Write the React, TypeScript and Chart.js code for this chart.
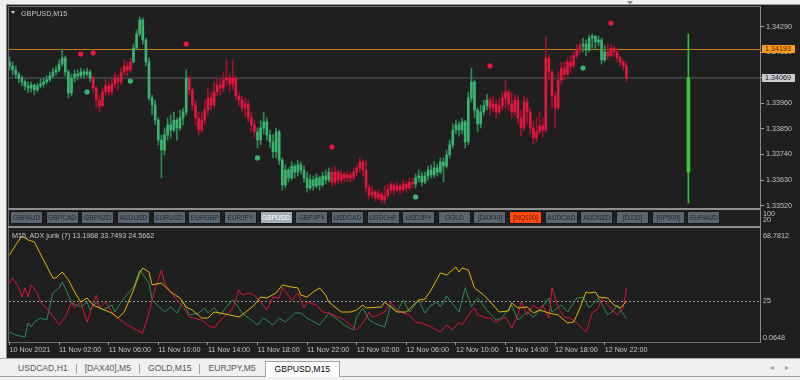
import React, { useEffect, useRef } from 'react';
import { Chart, registerables } from 'chart.js';

Chart.register(...registerables);

// ---------------- data ----------------
const chartTitle = 'GBPUSD,M15';
const firstOpen = 1.34138;
const closes = [
  1.34121, 1.34104, 1.34086, 1.34069, 1.34052, 1.34035, 1.34026, 1.34039, 1.34018, 1.34035,
  1.34043, 1.34052, 1.34061, 1.34078, 1.34095, 1.34104, 1.34129, 1.34155, 1.34095, 1.34005,
  1.34069, 1.34086, 1.34078, 1.34095, 1.34086, 1.34095, 1.34069, 1.34026, 1.33974, 1.33949,
  1.34009, 1.34035, 1.34009, 1.34043, 1.34069, 1.34052, 1.34095, 1.34121, 1.34104, 1.34138,
  1.34198, 1.34259, 1.34319, 1.34233, 1.34138, 1.33983, 1.33953, 1.33888, 1.33802, 1.33759,
  1.33824, 1.33867, 1.33845, 1.33888, 1.33854, 1.33897, 1.33923, 1.34069, 1.34018, 1.33953,
  1.33897, 1.33845, 1.33888, 1.33931, 1.33983, 1.33953, 1.34009, 1.34039, 1.34026, 1.34061,
  1.34069, 1.34043, 1.34069, 1.33992, 1.33974, 1.33940, 1.33957, 1.33897, 1.33867, 1.33837,
  1.33802, 1.33854, 1.33880, 1.33824, 1.33794, 1.33751, 1.33837, 1.33716, 1.33609, 1.33673,
  1.33639, 1.33690, 1.33664, 1.33695, 1.33673, 1.33639, 1.33596, 1.33630, 1.33604, 1.33639,
  1.33609, 1.33647, 1.33630, 1.33664, 1.33621, 1.33664, 1.33630, 1.33656, 1.33639, 1.33652,
  1.33639, 1.33664, 1.33682, 1.33708, 1.33673, 1.33596, 1.33565, 1.33578, 1.33553, 1.33570,
  1.33544, 1.33561, 1.33587, 1.33609, 1.33587, 1.33604, 1.33587, 1.33613, 1.33596, 1.33621,
  1.33613, 1.33639, 1.33647, 1.33621, 1.33647, 1.33673, 1.33652, 1.33682, 1.33664, 1.33708,
  1.33690, 1.33738, 1.33781, 1.33845, 1.33867, 1.33845, 1.33880, 1.33794, 1.33983, 1.34052,
  1.33931, 1.33871, 1.33923, 1.33949, 1.33974, 1.33940, 1.33957, 1.33923, 1.33949, 1.33983,
  1.34009, 1.33957, 1.33923, 1.33974, 1.33897, 1.33854, 1.33966, 1.33923, 1.33854, 1.33811,
  1.33837, 1.33863, 1.33845, 1.34155, 1.34095, 1.33992, 1.33940, 1.34061, 1.34112, 1.34086,
  1.34138, 1.34121, 1.34164, 1.34190, 1.34207, 1.34215, 1.34190, 1.34241, 1.34250, 1.34224,
  1.34233, 1.34147, 1.34181, 1.34164, 1.34198, 1.34181, 1.34155, 1.34138, 1.34121, 1.34069,
];
const highs = [
  1.34160, 1.34138, 1.34121, 1.34095, 1.34078, 1.34061, 1.34052, 1.34052, 1.34043, 1.34048,
  1.34065, 1.34069, 1.34078, 1.34095, 1.34112, 1.34121, 1.34147, 1.34194, 1.34164, 1.34104,
  1.34086, 1.34104, 1.34104, 1.34112, 1.34104, 1.34112, 1.34104, 1.34078, 1.34035, 1.33996,
  1.34026, 1.34061, 1.34052, 1.34069, 1.34091, 1.34082, 1.34112, 1.34147, 1.34138, 1.34155,
  1.34215, 1.34276, 1.34332, 1.34327, 1.34241, 1.34155, 1.33996, 1.33974, 1.33897, 1.33824,
  1.33854, 1.33897, 1.33910, 1.33923, 1.33897, 1.33931, 1.33940, 1.34104, 1.34078, 1.34026,
  1.33974, 1.33923, 1.33923, 1.33974, 1.34026, 1.34009, 1.34052, 1.34069, 1.34069, 1.34095,
  1.34147, 1.34086, 1.34147, 1.34078, 1.34009, 1.33992, 1.33983, 1.33974, 1.33923, 1.33888,
  1.33854, 1.33888, 1.33923, 1.33897, 1.33845, 1.33824, 1.33854, 1.33845, 1.33725, 1.33695,
  1.33682, 1.33708, 1.33699, 1.33716, 1.33708, 1.33690, 1.33664, 1.33652, 1.33647, 1.33656,
  1.33647, 1.33664, 1.33673, 1.33682, 1.33682, 1.33690, 1.33673, 1.33673, 1.33664, 1.33669,
  1.33664, 1.33682, 1.33695, 1.33725, 1.33716, 1.33716, 1.33609, 1.33604, 1.33587, 1.33587,
  1.33578, 1.33604, 1.33613, 1.33621, 1.33617, 1.33621, 1.33613, 1.33630, 1.33621, 1.33639,
  1.33639, 1.33656, 1.33673, 1.33664, 1.33664, 1.33690, 1.33695, 1.33708, 1.33699, 1.33725,
  1.33725, 1.33759, 1.33802, 1.33871, 1.33888, 1.33880, 1.33897, 1.33888, 1.34009, 1.34112,
  1.34061, 1.33940, 1.33953, 1.33974, 1.34000, 1.33983, 1.33992, 1.33974, 1.33983, 1.34009,
  1.34061, 1.34018, 1.34009, 1.33996, 1.33992, 1.33931, 1.33992, 1.33983, 1.33940, 1.33880,
  1.33897, 1.33923, 1.33897, 1.34246, 1.34168, 1.34104, 1.34009, 1.34095, 1.34138, 1.34138,
  1.34155, 1.34164, 1.34181, 1.34215, 1.34224, 1.34241, 1.34233, 1.34254, 1.34259, 1.34250,
  1.34250, 1.34241, 1.34207, 1.34215, 1.34215, 1.34207, 1.34198, 1.34164, 1.34147, 1.34138,
];
const lows = [
  1.34104, 1.34082, 1.34069, 1.34048, 1.34035, 1.34018, 1.34005, 1.34009, 1.33996, 1.34009,
  1.34026, 1.34030, 1.34043, 1.34052, 1.34069, 1.34082, 1.34095, 1.34121, 1.34078, 1.33983,
  1.33992, 1.34052, 1.34061, 1.34069, 1.34069, 1.34078, 1.34052, 1.34009, 1.33940, 1.33923,
  1.33949, 1.33996, 1.33992, 1.33996, 1.34026, 1.34018, 1.34039, 1.34082, 1.34078, 1.34095,
  1.34134, 1.34190, 1.34250, 1.34215, 1.34121, 1.33974, 1.33910, 1.33867, 1.33781, 1.33639,
  1.33738, 1.33802, 1.33811, 1.33837, 1.33802, 1.33845, 1.33867, 1.33910, 1.33996, 1.33931,
  1.33867, 1.33824, 1.33837, 1.33867, 1.33910, 1.33931, 1.33940, 1.33992, 1.33996, 1.34009,
  1.34035, 1.34009, 1.34018, 1.33974, 1.33949, 1.33923, 1.33906, 1.33880, 1.33837, 1.33811,
  1.33768, 1.33781, 1.33828, 1.33802, 1.33768, 1.33725, 1.33725, 1.33695, 1.33587, 1.33596,
  1.33621, 1.33630, 1.33639, 1.33647, 1.33656, 1.33621, 1.33578, 1.33587, 1.33587, 1.33596,
  1.33587, 1.33600, 1.33613, 1.33621, 1.33604, 1.33609, 1.33613, 1.33617, 1.33621, 1.33626,
  1.33621, 1.33630, 1.33647, 1.33664, 1.33647, 1.33578, 1.33548, 1.33553, 1.33540, 1.33544,
  1.33531, 1.33527, 1.33553, 1.33570, 1.33565, 1.33578, 1.33570, 1.33578, 1.33578, 1.33587,
  1.33596, 1.33596, 1.33621, 1.33604, 1.33613, 1.33630, 1.33639, 1.33639, 1.33647, 1.33656,
  1.33621, 1.33682, 1.33725, 1.33768, 1.33828, 1.33819, 1.33828, 1.33768, 1.33781, 1.33966,
  1.33897, 1.33837, 1.33854, 1.33910, 1.33931, 1.33910, 1.33923, 1.33897, 1.33914, 1.33931,
  1.33940, 1.33931, 1.33897, 1.33906, 1.33871, 1.33819, 1.33845, 1.33871, 1.33828, 1.33785,
  1.33794, 1.33828, 1.33815, 1.33837, 1.34061, 1.33940, 1.33854, 1.33931, 1.34043, 1.34061,
  1.34078, 1.34095, 1.34112, 1.34155, 1.34172, 1.34181, 1.34164, 1.34181, 1.34198, 1.34190,
  1.34207, 1.34129, 1.34138, 1.34147, 1.34160, 1.34164, 1.34138, 1.34121, 1.34104, 1.34052,
];
// trend colouring of the candles, as runs of [direction, bar count]
const trendRuns: [string, number][] = [
  ['up', 27], ['down', 13], ['up', 18], ['down', 22], ['up', 24],
  ['down', 27], ['up', 24], ['down', 30], ['up', 8], ['down', 7],
];
const sellSignals: [number, number][] = [
  [23, 1.34172], [27, 1.34177], [57, 1.34215], [104, 1.33772], [155, 1.34121], [194, 1.34306],
];
const buySignals: [number, number][] = [
  [25, 1.34009], [39, 1.34056], [80, 1.33725], [131, 1.33557], [185, 1.34112],
];
const dailyBar = 219;
const dailyOpen = 1.33664;
const dailyHigh = 1.34259;
const dailyLow = 1.33531;
const dailyClose = 1.34069;
const priceTicks = [1.3352, 1.3363, 1.3374, 1.3385, 1.3396, 1.3407, 1.3418, 1.3429];
const levelPrice = 1.34193;
const bidPrice = 1.34069;

const timeTickBars = [0, 16, 32, 48, 64, 80, 96, 112, 128, 144, 160, 176, 192];
const timeLabels = [
  '10 Nov 2021', '11 Nov 02:00', '11 Nov 06:00', '11 Nov 10:00', '11 Nov 14:00',
  '11 Nov 18:00', '11 Nov 22:00', '12 Nov 02:00', '12 Nov 06:00', '12 Nov 10:00',
  '12 Nov 14:00', '12 Nov 18:00', '12 Nov 22:00',
];

const indicatorTitle = 'M15, ADX jurik (7) 13.1968 33.7493 24.5662';
const adxLine: [number, number][] = [
  [0, 56.0], [2, 62.7], [4, 68.8], [6, 66.1], [8, 64.8], [11, 52.6], [14, 40.5], [15, 40.5], [17, 44.5],
  [19, 39.2], [21, 31.1], [23, 24.3], [25, 27.0], [27, 22.3], [29, 20.3], [33, 16.9], [35, 13.5], [37, 17.6],
  [40, 32.4], [42, 43.9], [43, 47.2], [45, 44.5], [46, 35.8], [49, 37.1], [52, 31.1], [55, 27.0], [57, 21.0],
  [59, 18.9], [62, 13.5], [64, 13.5], [66, 17.6], [68, 16.9], [71, 15.6], [74, 14.2], [75, 15.6], [79, 22.3],
  [81, 27.7], [83, 27.0], [86, 30.4], [88, 35.8], [91, 34.4], [93, 33.8], [94, 29.0], [96, 27.7], [98, 31.1],
  [100, 33.8], [102, 29.0], [103, 24.3], [107, 17.6], [110, 17.6], [112, 18.9], [114, 22.3], [115, 20.3],
  [120, 21.0], [121, 24.3], [125, 17.6], [128, 17.6], [132, 25.7], [134, 26.3], [136, 32.4], [139, 43.9],
  [141, 42.5], [144, 47.9], [145, 44.5], [146, 47.2], [148, 45.9], [150, 33.8], [153, 29.0], [156, 22.3],
  [158, 17.6], [161, 18.3], [162, 23.7], [164, 20.3], [167, 21.0], [169, 16.9], [171, 18.9], [174, 16.9],
  [177, 15.6], [180, 10.2], [182, 10.8], [184, 20.3], [186, 31.1], [187, 30.4], [189, 31.1], [190, 27.7],
  [193, 27.0], [195, 22.3], [197, 20.3], [199, 24.5662],
];
const redLine: [number, number][] = [
  [0, 37.1], [1, 40.5], [3, 33.8], [4, 27.7], [5, 33.8], [6, 27.7], [7, 35.8], [9, 30.4], [10, 24.3],
  [13, 17.6], [16, 8.8], [18, 14.2], [20, 24.3], [21, 20.3], [23, 24.3], [25, 10.8], [28, 29.0], [29, 20.3],
  [31, 24.3], [33, 17.6], [35, 13.5], [38, 8.8], [41, 5.5], [43, 3.4], [45, 16.9], [47, 33.8], [48, 39.2],
  [49, 45.9], [50, 37.1], [52, 31.1], [54, 25.7], [56, 21.0], [58, 14.2], [62, 12.2], [64, 8.8], [66, 6.8],
  [68, 12.2], [71, 17.6], [72, 20.3], [74, 32.4], [75, 29.0], [77, 30.4], [79, 29.0], [81, 24.3], [83, 18.9],
  [85, 27.7], [87, 27.0], [88, 34.4], [91, 25.7], [93, 30.4], [95, 20.3], [96, 24.3], [99, 22.3], [101, 17.6],
  [103, 17.0], [106, 14.2], [108, 12.2], [110, 8.8], [112, 5.5], [114, 10.2], [116, 17.6], [117, 14.2],
  [119, 15.6], [121, 17.6], [123, 24.3], [125, 18.9], [127, 16.9], [129, 15.6], [131, 10.8], [133, 10.2],
  [136, 7.5], [139, 4.1], [141, 8.8], [143, 5.5], [145, 10.8], [146, 8.8], [148, 15.6], [150, 20.3],
  [151, 15.6], [154, 13.5], [155, 13.5], [157, 10.8], [160, 14.2], [162, 6.8], [164, 15.6], [165, 24.3],
  [167, 15.6], [169, 22.3], [171, 18.9], [172, 22.3], [174, 13.5], [175, 33.8], [177, 20.3], [179, 14.2],
  [181, 13.5], [183, 10.2], [186, 4.1], [188, 16.9], [190, 20.3], [191, 27.0], [193, 22.3], [195, 17.6],
  [196, 15.6], [198, 20.3], [199, 33.7493],
];
const greenLine: [number, number][] = [
  [0, 4.1], [2, 2.1], [5, 0.7], [6, 10.2], [7, 7.5], [8, 10.8], [10, 13.5], [12, 12.2], [13, 21.0],
  [14, 30.4], [16, 33.8], [17, 37.8], [19, 29.0], [20, 23.7], [23, 21.0], [25, 24.3], [26, 18.9], [28, 24.3],
  [30, 18.9], [33, 22.3], [34, 17.6], [36, 24.3], [37, 27.0], [40, 34.4], [42, 45.9], [45, 37.1], [46, 25.7],
  [50, 17.6], [52, 21.0], [54, 16.9], [56, 24.3], [58, 15.6], [61, 16.9], [63, 20.3], [64, 16.9], [66, 20.3],
  [68, 15.6], [70, 21.0], [72, 25.7], [74, 20.3], [75, 16.9], [78, 12.2], [80, 8.8], [82, 13.5], [85, 8.8],
  [87, 13.5], [89, 10.8], [92, 16.9], [94, 16.9], [96, 13.5], [99, 10.2], [100, 8.8], [102, 14.2], [103, 16.9],
  [106, 12.2], [108, 8.8], [111, 5.5], [112, 14.2], [114, 20.3], [116, 12.2], [119, 8.8], [121, 7.5],
  [123, 22.3], [125, 17.6], [127, 25.7], [129, 17.6], [132, 25.7], [134, 16.9], [136, 22.3], [138, 24.3],
  [139, 21.0], [141, 28.4], [145, 17.6], [147, 33.8], [149, 21.0], [151, 27.0], [154, 18.9], [157, 12.2],
  [159, 14.2], [162, 22.3], [164, 12.2], [167, 17.6], [169, 14.2], [171, 18.9], [174, 27.0], [175, 17.6],
  [178, 22.3], [180, 17.6], [183, 27.0], [185, 27.7], [187, 20.3], [190, 27.0], [193, 15.6], [195, 18.9],
  [196, 22.3], [199, 13.1968],
];
const adxLevel = 25;
const indicatorTicks = [0.0648, 25, 68.7812];
const indicatorTickLabels = ['0.0648', '25', '68.7812'];

const symbolButtons = [
  'GBPAUD', 'GBPCAD', 'GBPNZD', 'AUDUSD', 'EURUSD', 'EURGBP', 'EURJPY', 'GBPUSD', 'GBPJPY', 'USDCAD',
  'USDCHF', 'USDJPY', 'GOLD', '[DAX40]', '[NQ100]', 'AUDCAD', 'AUDNZD', '[DJ30]', '[SP500]', 'EURAUD',
];
const activeSymbol = 'GBPUSD';
const alertSymbol = '[NQ100]';
const chartTabs = ['USDCAD,H1', '[DAX40],M5', 'GOLD,M15', 'EURJPY,M5', 'GBPUSD,M15'];
const activeTab = 'GBPUSD,M15';

// ---------------- styling / geometry ----------------
const X_MIN = -0.16;
const X_MAX = 242.1;
const P_MAX = 1.343748;
const P_MIN = 1.335095;
const I_MAX = 73.5;
const I_MIN = -2.6;
const FONT = 'Liberation Sans, Arial, sans-serif';
const AXIS_TEXT = '#c4c4c4';
const UP_BODY = '#3cb371';
const UP_WICK = '#2e8b57';
const DN_BODY = '#e0173f';
const DN_WICK = '#a3132f';

const trend: string[] = trendRuns.flatMap(([d, n]) => Array(n).fill(d));
const opens = closes.map((_, i) => (i === 0 ? firstOpen : closes[i - 1]));

const mainDecor = {
  id: 'mainDecor',
  beforeDatasetsDraw(chart: any) {
    const { ctx, chartArea, scales } = chart;
    const y = scales.y;
    ctx.save();
    let py = Math.round(y.getPixelForValue(bidPrice));
    ctx.fillStyle = '#3a3d40';
    ctx.fillRect(chartArea.left, py - 1, chartArea.right - chartArea.left, 2);
    py = Math.round(y.getPixelForValue(levelPrice));
    ctx.fillStyle = '#c97d12';
    ctx.fillRect(chartArea.left, py, chartArea.right - chartArea.left, 1);
    ctx.restore();
  },
  afterDraw(chart: any) {
    const { ctx, chartArea, scales } = chart;
    const y = scales.y;
    const box = (v: number, bg: string, fg: string) => {
      const py = Math.round(y.getPixelForValue(v));
      ctx.fillStyle = bg;
      ctx.fillRect(chartArea.right + 2, py - 4, 33, 8);
      ctx.fillStyle = fg;
      ctx.font = `7.2px ${FONT}`;
      ctx.textBaseline = 'middle';
      ctx.textAlign = 'left';
      ctx.fillText(v.toFixed(5), chartArea.right + 5, py + 0.5);
    };
    ctx.save();
    box(levelPrice, '#ff9a1a', '#3a2000');
    box(bidPrice, '#c9cdd1', '#151515');
    ctx.restore();
  },
};

const indDecor = {
  id: 'indDecor',
  beforeDatasetsDraw(chart: any) {
    const { ctx, chartArea, scales } = chart;
    const py = Math.round(scales.y.getPixelForValue(adxLevel)) + 0.5;
    ctx.save();
    ctx.strokeStyle = '#9a9a9a';
    ctx.lineWidth = 1;
    ctx.setLineDash([2, 2]);
    ctx.beginPath();
    ctx.moveTo(chartArea.left, py);
    ctx.lineTo(chartArea.right, py);
    ctx.stroke();
    ctx.restore();
  },
};

export default function App() {
  const mainRef = useRef<HTMLCanvasElement>(null);
  const indRef = useRef<HTMLCanvasElement>(null);

  useEffect(() => {
    const main = new Chart(mainRef.current as HTMLCanvasElement, {
      type: 'bar',
      data: {
        datasets: [
          {
            type: 'scatter',
            data: sellSignals.map(([x, y]) => ({ x, y })),
            pointRadius: 2.6,
            pointBackgroundColor: '#e8173e',
            pointBorderWidth: 0,
            order: 0,
          } as any,
          {
            type: 'scatter',
            data: buySignals.map(([x, y]) => ({ x, y })),
            pointRadius: 2.6,
            pointBackgroundColor: '#3cb371',
            pointBorderWidth: 0,
            order: 0,
          } as any,
          {
            type: 'bar',
            data: closes.map((c, i) => ({ x: i, y: [opens[i], c] })),
            backgroundColor: trend.map((t) => (t === 'up' ? UP_BODY : DN_BODY)),
            barThickness: 2,
            minBarLength: 1,
            grouped: false,
            order: 2,
          } as any,
          {
            type: 'bar',
            data: closes.map((_, i) => ({ x: i, y: [lows[i], highs[i]] })),
            backgroundColor: trend.map((t) => (t === 'up' ? UP_WICK : DN_WICK)),
            barThickness: 1,
            grouped: false,
            order: 3,
          } as any,
          {
            type: 'bar',
            data: [{ x: dailyBar, y: [dailyOpen, dailyClose] }],
            backgroundColor: '#32cd32',
            barThickness: 3,
            grouped: false,
            order: 2,
          } as any,
          {
            type: 'bar',
            data: [{ x: dailyBar, y: [dailyLow, dailyHigh] }],
            backgroundColor: '#2fbf2f',
            barThickness: 1,
            grouped: false,
            order: 3,
          } as any,
        ],
      },
      options: {
        animation: false,
        responsive: false,
        devicePixelRatio: 1,
        events: [],
        layout: { padding: 0, autoPadding: false },
        plugins: { legend: { display: false }, tooltip: { enabled: false } },
        scales: {
          x: { type: 'linear', min: X_MIN, max: X_MAX, offset: false, display: false },
          y: {
            position: 'right',
            min: P_MIN,
            max: P_MAX,
            afterBuildTicks: (s: any) => {
              s.ticks = priceTicks.map((v) => ({ value: v }));
            },
            afterFit: (s: any) => {
              s.width = 40;
              s.paddingTop = 0;
              s.paddingBottom = 0;
            },
            ticks: {
              color: AXIS_TEXT,
              font: { family: FONT, size: 7.2 },
              padding: 2,
              callback: (v: any) => Number(v).toFixed(5),
            },
            grid: { drawOnChartArea: false, color: '#9a9a9a', tickLength: 4 },
            border: { display: false },
          },
        },
      } as any,
      plugins: [mainDecor],
    });

    const mk = (pts: [number, number][], color: string, order: number) => ({
      data: pts.map(([x, y]) => ({ x, y })),
      borderColor: color,
      borderWidth: 1,
      pointRadius: 0,
      tension: 0,
      order,
    });

    const ind = new Chart(indRef.current as HTMLCanvasElement, {
      type: 'line',
      data: {
        datasets: [
          mk(adxLine, '#e0b900', 1),
          mk(redLine, '#dc143c', 2),
          mk(greenLine, '#2e8b57', 3),
        ],
      },
      options: {
        animation: false,
        responsive: false,
        devicePixelRatio: 1,
        events: [],
        layout: { padding: 0, autoPadding: false },
        plugins: { legend: { display: false }, tooltip: { enabled: false } },
        scales: {
          x: {
            type: 'linear',
            min: X_MIN,
            max: X_MAX,
            offset: false,
            afterBuildTicks: (s: any) => {
              s.ticks = timeTickBars.map((v) => ({ value: v }));
            },
            afterFit: (s: any) => {
              s.height = 16;
              s.paddingLeft = 0;
              s.paddingRight = 0;
            },
            ticks: {
              color: AXIS_TEXT,
              font: { family: FONT, size: 7.2 },
              padding: 1,
              align: 'start',
              autoSkip: false,
              maxRotation: 0,
              minRotation: 0,
              callback: (_v: any, i: number) => timeLabels[i],
            },
            grid: { drawOnChartArea: false, color: '#9a9a9a', tickLength: 3 },
            border: { display: false },
          },
          y: {
            position: 'right',
            min: I_MIN,
            max: I_MAX,
            afterBuildTicks: (s: any) => {
              s.ticks = indicatorTicks.map((v) => ({ value: v }));
            },
            afterFit: (s: any) => {
              s.width = 40;
              s.paddingTop = 0;
              s.paddingBottom = 0;
            },
            ticks: {
              color: AXIS_TEXT,
              font: { family: FONT, size: 7.2 },
              padding: 3,
              callback: (_v: any, i: number) => indicatorTickLabels[i],
            },
            grid: { display: false, drawTicks: false, tickLength: 0 },
            border: { display: false },
          },
        },
      } as any,
      plugins: [indDecor],
    });

    return () => {
      main.destroy();
      ind.destroy();
    };
  }, []);

  const abs = (o: any) => ({ position: 'absolute' as const, ...o });
  const frame = '#6c6c6c';

  return (
    <div
      style={{
        position: 'fixed', left: 0, top: 0, width: 800, height: 380, overflow: 'hidden',
        background: '#f0f0f0', fontFamily: FONT,
      }}
    >
      {/* dark terminal area */}
      <div style={abs({ left: 6, top: 4, width: 794, height: 354, background: '#1f1f1f', borderLeft: '1px solid #8a8a8a', borderTop: '1px solid #9a9a9a', boxSizing: 'border-box' })} />
      {/* main frame */}
      <div style={abs({ left: 8, top: 6, width: 753, height: 203, border: `1px solid ${frame}`, boxSizing: 'border-box' })} />
      <div style={abs({ left: 8, top: 208, width: 753, height: 2, background: '#8e8e8e' })} />
      {/* button sub-window */}
      <div style={abs({ left: 8, top: 210, width: 753, height: 16, borderLeft: `1px solid ${frame}`, borderRight: `1px solid ${frame}`, boxSizing: 'border-box' })} />
      <div style={abs({ left: 8, top: 226, width: 753, height: 2, background: '#8e8e8e' })} />
      {/* indicator frame */}
      <div style={abs({ left: 8, top: 228, width: 753, height: 115, border: `1px solid ${frame}`, borderTop: 'none', boxSizing: 'border-box' })} />
      {/* right axis line */}
      <div style={abs({ left: 760, top: 6, width: 1, height: 337, background: '#8a8a8a' })} />
      {/* chart shift marker */}
      <div style={abs({ left: 627, top: 1, width: 0, height: 0, borderLeft: '3px solid transparent', borderRight: '3px solid transparent', borderTop: '4px solid #8a8a8a' })} />

      <canvas ref={mainRef} width={791} height={201} style={abs({ left: 9, top: 7 })} />
      <canvas ref={indRef} width={791} height={129} style={abs({ left: 9, top: 229 })} />

      {/* titles */}
      <div style={abs({ left: 11, top: 11, width: 0, height: 0, borderLeft: '2.5px solid transparent', borderRight: '2.5px solid transparent', borderTop: '3.5px solid #d0d0d0' })} />
      <div style={abs({ left: 21, top: 9, fontSize: 7.2, lineHeight: '9px', color: '#c8c8c8', whiteSpace: 'nowrap' })}>{chartTitle}</div>
      <div style={abs({ left: 12, top: 231, fontSize: 7.2, lineHeight: '9px', color: '#c8c8c8', whiteSpace: 'nowrap' })}>{indicatorTitle}</div>

      {/* symbol buttons */}
      {symbolButtons.map((s, k) => {
        const act = s === activeSymbol;
        const alert = s === alertSymbol;
        return (
          <div
            key={s}
            style={abs({
              left: 10 + k * 35.65, top: 211, width: 33, height: 13, boxSizing: 'border-box',
              border: '1px solid #14181c',
              background: act ? '#a4afb8' : alert ? '#ff4a0c' : '#5a656f',
              color: act ? '#ffffff' : alert ? '#5a1500' : '#1f262e',
              fontSize: 6.6, lineHeight: '11px', textAlign: 'center', whiteSpace: 'nowrap', overflow: 'hidden',
            })}
          >
            {s}
          </div>
        );
      })}
      <div style={abs({ left: 763, top: 210, fontSize: 7.2, lineHeight: '8px', color: AXIS_TEXT })}>100</div>
      <div style={abs({ left: 763, top: 215.5, fontSize: 7.2, lineHeight: '8px', color: AXIS_TEXT })}>20</div>

      {/* tab bar */}
      <div style={abs({ left: 0, top: 358, width: 800, height: 22, background: '#f0f0f0', borderTop: '1px solid #a8a8a8', boxSizing: 'border-box' })}>
        <div style={abs({ left: 0, top: 17, width: 800, height: 1, background: '#a0a0a0' })} />
        <div style={abs({ left: 10, top: 2, height: 16, display: 'flex', alignItems: 'center' })}>
          {chartTabs.map((t, k) => {
            const act = t === activeTab;
            const nextAct = chartTabs[k + 1] === activeTab;
            return (
              <React.Fragment key={t}>
                <div
                  style={{
                    height: 16, boxSizing: 'border-box', padding: act ? '0 9px' : '0 8px',
                    background: act ? '#ffffff' : 'transparent',
                    border: act ? '1px solid #a0a0a0' : 'none', borderBottom: 'none',
                    color: act ? '#000000' : '#555555', fontSize: 8.6, lineHeight: '15px', whiteSpace: 'nowrap',
                  }}
                >
                  {t}
                </div>
                {!act && !nextAct && k < chartTabs.length - 1 ? (
                  <div style={{ width: 1, height: 10, background: '#a0a0a0' }} />
                ) : null}
                {nextAct ? <div style={{ width: 1 }} /> : null}
              </React.Fragment>
            );
          })}
        </div>
        <div style={abs({ left: 770, top: 4, fontSize: 8, color: '#9a9a9a', fontFamily: 'DejaVu Sans' })}>◂</div>
        <div style={abs({ left: 785, top: 4, fontSize: 8, color: '#9a9a9a', fontFamily: 'DejaVu Sans' })}>▸</div>
      </div>
    </div>
  );
}
